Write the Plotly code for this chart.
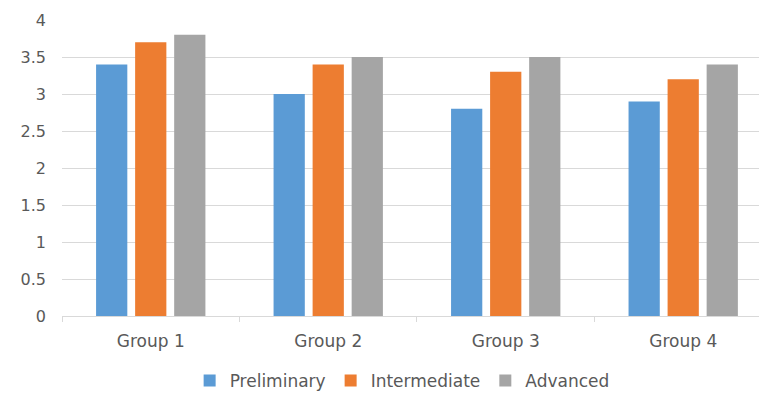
import plotly.graph_objects as go

categories = ["Group 1", "Group 2", "Group 3", "Group 4"]
preliminary = [3.4, 3.0, 2.8, 2.9]
intermediate = [3.7, 3.4, 3.3, 3.2]
advanced = [3.8, 3.5, 3.5, 3.4]
series_names = ["Preliminary", "Intermediate", "Advanced"]
colors = ["#5B9BD5", "#ED7D31", "#A5A5A5"]
y_ticks = [0, 0.5, 1, 1.5, 2, 2.5, 3, 3.5, 4]
y_tick_text = ["0", "0.5", "1", "1.5", "2", "2.5", "3", "3.5", "4"]

FONT = "DejaVu Sans"
TXT = "#595959"

fig = go.Figure()
for name, vals, col in zip(series_names, [preliminary, intermediate, advanced], colors):
    fig.add_trace(go.Bar(
        x=categories, y=vals, name=name,
        marker=dict(color=col, line=dict(width=0)),
    ))

fig.update_layout(
    width=759, height=394,
    margin=dict(l=62, r=0, t=20, b=78, autoexpand=False),
    paper_bgcolor="white", plot_bgcolor="white",
    barmode="group", bargap=0.34, bargroupgap=0.2,
    font=dict(family=FONT, color=TXT, size=17),
    showlegend=True,
    legend=dict(orientation="h", x=0.488, xanchor="center",
                yref="container", y=0.033, yanchor="middle",
                font=dict(family=FONT, size=17, color=TXT), itemwidth=30,
                tracegroupgap=0),
    xaxis=dict(
        range=[-0.5, 3.427], showgrid=False, showline=True, linecolor="#D9D9D9", linewidth=1,
        ticks="outside", tickson="boundaries", ticklen=5, tickcolor="#D9D9D9",
        ticklabelstandoff=10,
        tickfont=dict(family=FONT, size=17, color=TXT), fixedrange=True,
    ),
    yaxis=dict(
        range=[0, 4], tickvals=y_ticks, ticktext=y_tick_text,
        showgrid=True, gridcolor="#D9D9D9", gridwidth=1, zeroline=False,
        showline=False, ticks="", ticklabelstandoff=15,
        tickfont=dict(family=FONT, size=16, color=TXT),
    ),
)

fig.write_html("out.html")
